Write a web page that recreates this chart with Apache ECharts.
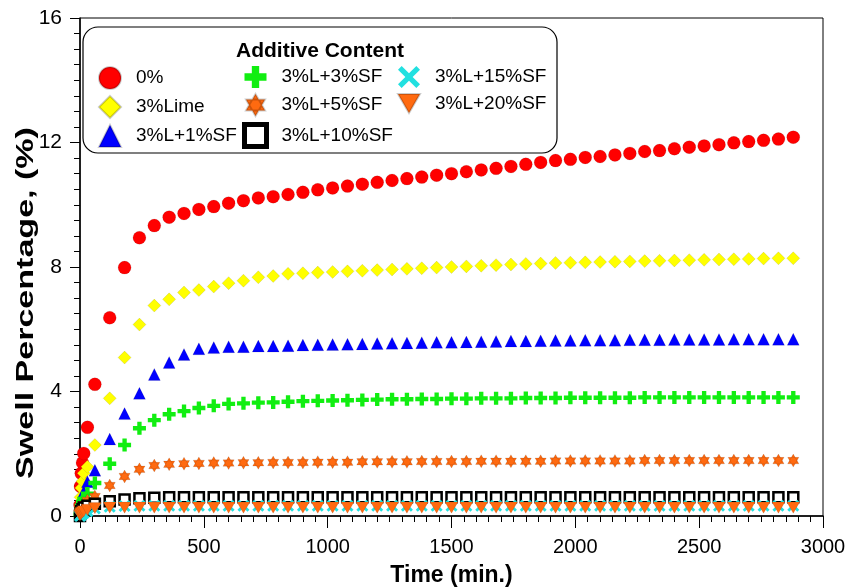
<!DOCTYPE html>
<html>
<head>
<meta charset="utf-8">
<script src="https://cdn.jsdelivr.net/npm/echarts@6/dist/echarts.min.js"></script>
<style>
  body { margin: 0; background: #fff; }
  #chart { width: 862px; height: 588px; }
</style>
</head>
<body>
<div id="chart"></div>
<script>
// time (min.)
const times = [0, 2, 5, 10, 15, 30,
  60, 120, 180, 240, 300, 360, 420, 480, 540, 600,
  660, 720, 780, 840, 900, 960, 1020, 1080, 1140, 1200,
  1260, 1320, 1380, 1440, 1500, 1560, 1620, 1680, 1740, 1800,
  1860, 1920, 1980, 2040, 2100, 2160, 2220, 2280, 2340, 2400,
  2460, 2520, 2580, 2640, 2700, 2760, 2820, 2880];

// swell percentage (%)
const s0 = [0.35, 0.95, 1.37, 1.71, 2.01, 2.85,
  4.23, 6.37, 7.98, 8.94, 9.33, 9.60, 9.72, 9.85, 9.94, 10.05,
  10.13, 10.22, 10.26, 10.33, 10.40, 10.48, 10.54, 10.60, 10.66, 10.72,
  10.78, 10.84, 10.89, 10.95, 11.00, 11.06, 11.12, 11.17, 11.23, 11.30,
  11.36, 11.42, 11.46, 11.52, 11.55, 11.60, 11.65, 11.71, 11.74, 11.80,
  11.85, 11.89, 11.93, 11.99, 12.03, 12.07, 12.11, 12.17];
const sLime = [0.15, 0.6, 0.9, 1.12, 1.37, 1.58,
  2.28, 3.78, 5.09, 6.15, 6.76, 6.96, 7.18, 7.26, 7.37, 7.48,
  7.56, 7.67, 7.71, 7.78, 7.80, 7.82, 7.84, 7.86, 7.88, 7.90,
  7.92, 7.94, 7.96, 7.98, 8.00, 8.02, 8.04, 8.06, 8.08, 8.10,
  8.11, 8.13, 8.14, 8.15, 8.16, 8.17, 8.18, 8.19, 8.20, 8.21,
  8.22, 8.23, 8.24, 8.25, 8.26, 8.27, 8.28, 8.28];
const sSF1 = [0.1, 0.3, 0.5, 0.65, 0.78, 1.10,
  1.47, 2.47, 3.29, 3.94, 4.55, 4.93, 5.19, 5.37, 5.41, 5.44,
  5.44, 5.46, 5.46, 5.47, 5.49, 5.50, 5.51, 5.52, 5.53, 5.54,
  5.55, 5.56, 5.57, 5.58, 5.58, 5.59, 5.60, 5.61, 5.62, 5.62,
  5.63, 5.64, 5.64, 5.65, 5.65, 5.65, 5.66, 5.66, 5.66, 5.67,
  5.67, 5.67, 5.67, 5.68, 5.68, 5.68, 5.68, 5.68];
const sSF3 = [0.05, 0.2, 0.33, 0.45, 0.55, 0.72,
  1.06, 1.68, 2.28, 2.82, 3.08, 3.27, 3.37, 3.47, 3.54, 3.60,
  3.62, 3.64, 3.65, 3.67, 3.69, 3.70, 3.71, 3.72, 3.73, 3.74,
  3.75, 3.75, 3.76, 3.76, 3.77, 3.77, 3.78, 3.78, 3.78, 3.79,
  3.79, 3.79, 3.80, 3.80, 3.80, 3.80, 3.80, 3.81, 3.81, 3.81,
  3.81, 3.81, 3.81, 3.81, 3.81, 3.81, 3.81, 3.81];
const sSF5 = [0.03, 0.12, 0.2, 0.3, 0.38, 0.5,
  0.63, 0.98, 1.27, 1.50, 1.62, 1.66, 1.68, 1.69, 1.70, 1.70,
  1.71, 1.71, 1.72, 1.72, 1.72, 1.73, 1.73, 1.73, 1.74, 1.74,
  1.74, 1.74, 1.75, 1.75, 1.75, 1.75, 1.76, 1.76, 1.76, 1.76,
  1.76, 1.77, 1.77, 1.77, 1.77, 1.77, 1.77, 1.78, 1.78, 1.78,
  1.78, 1.78, 1.78, 1.78, 1.78, 1.78, 1.78, 1.78];
const sSF10 = [0.0, 0.08, 0.15, 0.22, 0.27, 0.33,
  0.39, 0.47, 0.53, 0.57, 0.59, 0.60, 0.60, 0.60, 0.60, 0.60,
  0.60, 0.60, 0.60, 0.60, 0.60, 0.60, 0.60, 0.60, 0.60, 0.60,
  0.60, 0.60, 0.60, 0.60, 0.60, 0.60, 0.60, 0.60, 0.60, 0.60,
  0.60, 0.60, 0.60, 0.60, 0.60, 0.60, 0.60, 0.60, 0.60, 0.60,
  0.60, 0.60, 0.60, 0.60, 0.60, 0.60, 0.60, 0.60];
const sSF15 = [0.0, 0.02, 0.04, 0.07, 0.1, 0.15,
  0.24, 0.30, 0.32, 0.33, 0.33, 0.33, 0.33, 0.33, 0.33, 0.33,
  0.33, 0.33, 0.33, 0.33, 0.33, 0.33, 0.33, 0.33, 0.33, 0.33,
  0.33, 0.33, 0.33, 0.33, 0.33, 0.33, 0.33, 0.33, 0.33, 0.33,
  0.33, 0.33, 0.33, 0.33, 0.33, 0.33, 0.33, 0.33, 0.33, 0.33,
  0.33, 0.33, 0.33, 0.33, 0.33, 0.33, 0.33, 0.33];
const sSF20 = [0.02, 0.06, 0.09, 0.12, 0.15, 0.2,
  0.25, 0.27, 0.27, 0.27, 0.27, 0.27, 0.27, 0.27, 0.27, 0.27,
  0.27, 0.27, 0.27, 0.27, 0.27, 0.27, 0.27, 0.27, 0.27, 0.27,
  0.27, 0.27, 0.27, 0.27, 0.27, 0.27, 0.27, 0.27, 0.27, 0.27,
  0.27, 0.27, 0.27, 0.27, 0.27, 0.27, 0.27, 0.27, 0.27, 0.27,
  0.27, 0.27, 0.27, 0.27, 0.27, 0.27, 0.27, 0.27];

const names = ['0%', '3%Lime', '3%L+1%SF', '3%L+3%SF', '3%L+5%SF',
  '3%L+10%SF', '3%L+15%SF', '3%L+20%SF'];

const FONT = 'Liberation Sans, Arial, sans-serif';
// marker shapes
const PLUS = 'path://M4,0 H8 V4 H12 V8 H8 V12 H4 V8 H0 V4 H4 Z';
const CROSS = 'path://M2,0 L6,4 L10,0 L12,2 L8,6 L12,10 L10,12 L6,8 L2,12 L0,10 L4,6 L0,2 Z';
const STAR6 = 'path://M6,0 L11.196,9 L0.804,9 Z M6,12 L0.804,3 L11.196,3 Z';
const DOWN = 'path://M0,0 L12,0 L6,10.4 Z';

function pts(vals) {
  return times.map((t, i) => [t, vals[i]]);
}

const edge = { borderColor: 'rgba(0,0,0,0.2)', borderWidth: 0.5, opacity: 1 };
const seriesDefs = [
  { vals: s0, symbol: 'circle', size: 13, style: Object.assign({ color: '#ff0000' }, edge) },
  { vals: sLime, symbol: 'diamond', size: 13, style: Object.assign({ color: '#ffff00' }, edge) },
  { vals: sSF1, symbol: 'triangle', size: 12, style: Object.assign({ color: '#0000ff' }, edge) },
  { vals: sSF3, symbol: PLUS, size: 13, style: { color: '#11ee11', opacity: 1 } },
  { vals: sSF5, symbol: STAR6, size: 13, style: Object.assign({ color: '#ff6a10' }, edge) },
  { vals: sSF10, symbol: 'rect', size: 10, style: { color: '#ffffff', borderColor: '#000', borderWidth: 2.5, opacity: 1 } },
  { vals: sSF15, symbol: CROSS, size: 12, style: { color: '#22e0e0', opacity: 1 } },
  { vals: sSF20, symbol: DOWN, size: 13, style: Object.assign({ color: '#ff6a10' }, edge) }
];

const series = seriesDefs.map((d, i) => ({
  name: names[i],
  type: 'scatter',
  symbol: d.symbol,
  symbolSize: d.size,
  symbolKeepAspect: true,
  itemStyle: d.style,
  data: pts(d.vals)
}));

// legend entries (the open square gets a heavier outline, as in the key)
const legendItems = names.map((n, i) => {
  if (i === 5) {
    return { name: n, itemStyle: { color: '#fff', borderColor: '#000', borderWidth: 5 } };
  }
  return { name: n };
});

function legendCol(items, left) {
  return {
    orient: 'vertical',
    left: left,
    top: 66,
    padding: 0,
    itemWidth: 22,
    itemHeight: 22,
    itemGap: 5,
    symbolKeepAspect: true,
    data: items,
    textStyle: { fontFamily: FONT, fontSize: 19, color: '#000', padding: [0, 0, 0, 10] }
  };
}

const chart = echarts.init(document.getElementById('chart'));
chart.setOption({
  animation: false,
  backgroundColor: '#fff',
  grid: {
    left: 80, right: 39, top: 18, bottom: 72,
    outerBoundsMode: 'none', containLabel: false,
    show: true, borderColor: '#000', borderWidth: 1
  },
  xAxis: {
    type: 'value',
    min: 0, max: 3000, interval: 500,
    name: 'Time (min.)',
    nameLocation: 'middle',
    nameGap: 48,
    nameTextStyle: { fontFamily: FONT, fontSize: 23, fontWeight: 'bold', color: '#000' },
    axisLine: { lineStyle: { color: '#000', width: 1.5 } },
    axisTick: { inside: false, length: 12, lineStyle: { color: '#000' } },
    minorTick: { show: true, splitNumber: 10, length: 6, lineStyle: { color: '#000' } },
    splitLine: { show: false },
    axisLabel: { fontFamily: FONT, fontSize: 20, color: '#000', margin: 21, formatter: v => String(v) }
  },
  yAxis: {
    type: 'value',
    min: 0, max: 16, interval: 4,
    axisLine: { lineStyle: { color: '#000', width: 1.5 } },
    axisTick: { inside: false, length: 10, lineStyle: { color: '#000' } },
    minorTick: { show: true, splitNumber: 8, length: 6, lineStyle: { color: '#000' } },
    splitLine: { show: false },
    axisLabel: { fontFamily: FONT, fontSize: 21, color: '#000', margin: 18 }
  },
  legend: [
    legendCol(legendItems.slice(0, 3), 98),
    legendCol(legendItems.slice(3, 6), 242),
    legendCol(legendItems.slice(6, 8), 397)
  ],
  graphic: [
    {
      type: 'rect',
      shape: { x: 83, y: 27, width: 474, height: 126, r: 15 },
      style: { fill: 'none', stroke: '#000', lineWidth: 1.2 },
      z: 10
    },
    {
      type: 'text',
      x: 320, y: 51,
      style: {
        text: 'Additive Content',
        fontFamily: FONT, fontSize: 21, fontWeight: 'bold', fill: '#000',
        align: 'center', verticalAlign: 'middle'
      },
      z: 10
    },
    {
      // y-axis title, stretched along its length like the original
      type: 'text',
      x: 27, y: 303,
      rotation: Math.PI / 2,
      scaleX: 1.48,
      style: {
        text: 'Swell Percentage, (%)',
        fontFamily: FONT, fontSize: 23, fontWeight: 'bold', fill: '#000',
        align: 'center', verticalAlign: 'middle'
      },
      z: 10
    }
  ],
  series: series
});
</script>
</body>
</html>
